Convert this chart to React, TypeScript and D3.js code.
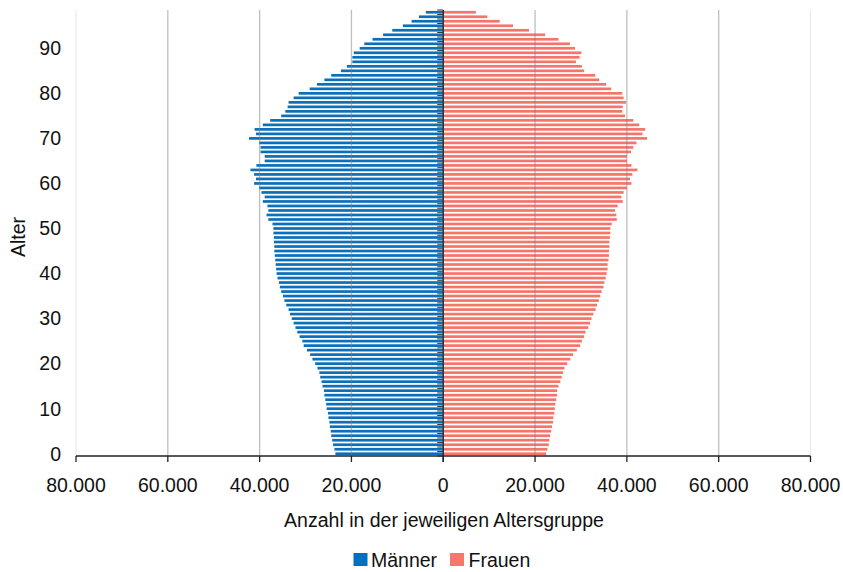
import React from "react";
import * as d3 from "d3";

// Population by single year of age (0–98)
const ages: number[] = d3.range(0, 99);

const maleValues: number[] = [
  23500, 23700, 24000, 24200, 24400, 24500, 24700, 24800, 25000, 25100,
  25400, 25500, 25700, 25900, 26000, 26300, 26500, 26800, 27000, 27400,
  27900, 28500, 29000, 29700, 30400, 30700, 31300, 31800, 32200, 32600,
  33000, 33400, 33700, 34200, 34600, 34900, 35300, 35600, 35800, 36100,
  36300, 36400, 36500, 36600, 36700, 36800, 36800, 36900, 36900, 37000,
  37000, 37200, 38100, 38500, 38100, 38300, 39300, 38900, 39600, 40100,
  41200, 40800, 41200, 42000, 40700, 38900, 38900, 39800, 39800, 40100,
  42300, 40800, 41100, 39300, 37700, 35300, 34400, 33900, 33700, 32600,
  31500, 29100, 27500, 25900, 24400, 22300, 21000, 19800, 19800, 19500,
  18200, 17200, 15400, 13100, 11100, 8800, 6900, 5300, 3800,
];

const femaleValues: number[] = [
  22400, 22700, 23000, 23100, 23300, 23500, 23700, 23900, 24000, 24200,
  24300, 24400, 24600, 24800, 24800, 25100, 25500, 25800, 26100, 26400,
  27000, 27700, 28300, 29100, 29800, 30200, 30700, 31000, 31600, 32000,
  32300, 32700, 33200, 33500, 33900, 34200, 34500, 34900, 35100, 35400,
  35600, 35800, 35800, 36000, 36100, 36100, 36200, 36200, 36300, 36400,
  36400, 36700, 37800, 37700, 37400, 38000, 39100, 38800, 39300, 40000,
  41000, 40700, 41200, 42300, 41000, 40000, 40000, 40900, 41400, 42100,
  44400, 43400, 44000, 42700, 41400, 39600, 39000, 39100, 39800, 39300,
  39000, 36600, 35500, 34000, 33100, 30700, 30200, 28900, 29700, 30100,
  28700, 27600, 25100, 22200, 18700, 15200, 12300, 9600, 7100,
];

const xTicks: number[] = [-80000, -60000, -40000, -20000, 0, 20000, 40000, 60000, 80000];
const yTickAges: number[] = [0, 10, 20, 30, 40, 50, 60, 70, 80, 90];
const seriesNames: string[] = ["Männer", "Frauen"];
const seriesColors: string[] = ["#0b6fba", "#f5756a"];
const legendColors: string[] = ["#0070c0", "#f8766d"];

const xAxisTitle = "Anzahl in der jeweiligen Altersgruppe";
const yAxisTitle = "Alter";

const W = 843;
const H = 572;
const left = 76;
const right = 810.5;
const top = 10;
const bottom = 456;

const FONT = "'Liberation Sans', Arial, Helvetica, sans-serif";
const FS = 19.5;

const fmt = (v: number) =>
  d3.format(",")(Math.abs(v)).replace(/,/g, ".");

export default function App() {
  const x = d3.scaleLinear().domain([-80000, 80000]).range([left, right]);
  const y = d3
    .scaleBand<number>()
    .domain([...ages].reverse())
    .range([top, bottom])
    .paddingInner(0.4)
    .paddingOuter(0.2);
  const step = y.step();
  const x0 = x(0);

  return (
    <svg
      width={W}
      height={H}
      style={{ position: "absolute", left: 0, top: 0, background: "#fff" }}
      fontFamily={FONT}
    >
      {/* bars */}
      <g>
        {ages.map((a, i) => (
          <rect
            key={"m" + a}
            x={x(-maleValues[i])}
            y={y(a)!}
            width={x0 - x(-maleValues[i])}
            height={y.bandwidth()}
            fill={seriesColors[0]}
          />
        ))}
        {ages.map((a, i) => (
          <rect
            key={"f" + a}
            x={x0}
            y={y(a)!}
            width={x(femaleValues[i]) - x0}
            height={y.bandwidth()}
            fill={seriesColors[1]}
          />
        ))}
      </g>

      {/* vertical gridlines, drawn over the bars */}
      <g>
        {xTicks
          .filter((t) => t !== 0)
          .map((t) => (
            <line
              key={"g" + t}
              x1={x(t)}
              x2={x(t)}
              y1={top}
              y2={bottom}
              stroke="#808080"
              strokeOpacity={Math.abs(t) === 80000 ? 0.15 : 0.5}
              strokeWidth={1.3}
            />
          ))}
      </g>

      {/* category axis at zero with ticks between ages */}
      <g stroke="#333" strokeWidth={1}>
        {d3.range(0, ages.length + 1).map((k) => (
          <line
            key={"yt" + k}
            x1={x0 - 6}
            x2={x0}
            y1={top + k * step}
            y2={top + k * step}
          />
        ))}
        <line x1={x0} x2={x0} y1={top} y2={bottom + 6} strokeWidth={1.5} />
      </g>

      {/* bottom value axis */}
      <g stroke="#222" strokeWidth={1.3}>
        <line x1={left} x2={right} y1={bottom} y2={bottom} />
        {xTicks.map((t) => (
          <line key={"xt" + t} x1={x(t)} x2={x(t)} y1={bottom} y2={bottom + 6} />
        ))}
      </g>
      <g fontSize={FS} fill="#111" textAnchor="middle">
        {xTicks.map((t) => (
          <text key={"xl" + t} x={x(t)} y={491.5}>
            {fmt(t)}
          </text>
        ))}
      </g>

      {/* age labels */}
      <g fontSize={FS} fill="#111" textAnchor="end">
        {yTickAges.map((a) => (
          <text key={"yl" + a} x={61} y={y(a)! + y.bandwidth() / 2} dy="0.35em">
            {a}
          </text>
        ))}
      </g>

      {/* axis titles */}
      <text x={444} y={527} fontSize={FS} fill="#111" textAnchor="middle">
        {xAxisTitle}
      </text>
      <text
        transform={`translate(25,237) rotate(-90)`}
        fontSize={FS}
        fill="#111"
        textAnchor="middle"
      >
        {yAxisTitle}
      </text>

      {/* legend */}
      <g fontSize={FS} fill="#111">
        <rect x={353.5} y={553} width={14} height={13} fill={legendColors[0]} />
        <text x={371} y={567}>
          {seriesNames[0]}
        </text>
        <rect x={450} y={553} width={14} height={13} fill={legendColors[1]} />
        <text x={468.5} y={567}>
          {seriesNames[1]}
        </text>
      </g>
    </svg>
  );
}
